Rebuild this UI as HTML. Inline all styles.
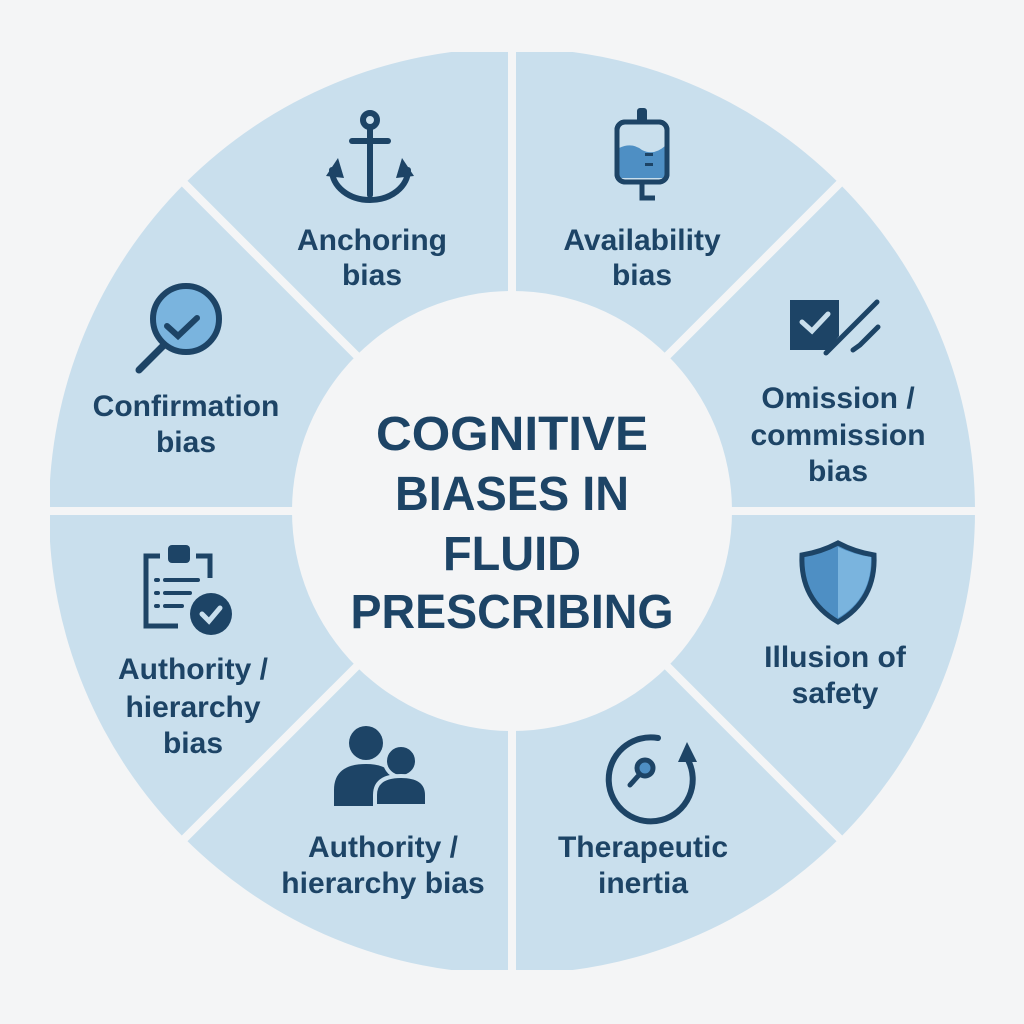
<!DOCTYPE html>
<html><head><meta charset="utf-8"><style>
html,body{margin:0;padding:0;background:#f4f5f6;}
svg{display:block}
text{font-family:"Liberation Sans",sans-serif;font-weight:bold;fill:#1d4466;text-anchor:middle}
</style></head><body>
<svg width="1024" height="1024" viewBox="0 0 1024 1024">
<defs><clipPath id="c"><rect x="50" y="52" width="925" height="918"/></clipPath></defs>
<rect width="1024" height="1024" fill="#f4f5f6"/>
<circle cx="512" cy="511" r="463" fill="#c9dfed" clip-path="url(#c)"/>
<g stroke="#f4f5f6" stroke-width="8">
<line x1="512" y1="20" x2="512" y2="1000"/>
<line x1="20" y1="511" x2="1004" y2="511"/>
<line x1="160" y1="159" x2="864" y2="863"/>
<line x1="864" y1="159" x2="160" y2="863"/>
</g>
<circle cx="512" cy="511" r="220" fill="#f4f5f6"/>
<g font-size="48">
<text x="512" y="450" textLength="272" lengthAdjust="spacingAndGlyphs">COGNITIVE</text>
<text x="512" y="510" textLength="234" lengthAdjust="spacingAndGlyphs">BIASES IN</text>
<text x="512" y="570" textLength="138" lengthAdjust="spacingAndGlyphs">FLUID</text>
<text x="512" y="628" textLength="323" lengthAdjust="spacingAndGlyphs">PRESCRIBING</text>
</g>
<g font-size="30">
<text x="372" y="250">Anchoring</text><text x="372" y="285">bias</text>
<text x="642" y="250">Availability</text><text x="642" y="285">bias</text>
<text x="838" y="408">Omission /</text><text x="838" y="445">commission</text><text x="838" y="481">bias</text>
<text x="835" y="667">Illusion of</text><text x="835" y="703">safety</text>
<text x="643" y="857">Therapeutic</text><text x="643" y="893">inertia</text>
<text x="383" y="857">Authority /</text><text x="383" y="893">hierarchy bias</text>
<text x="193" y="679">Authority /</text><text x="193" y="717">hierarchy</text><text x="193" y="753">bias</text>
<text x="186" y="416">Confirmation</text><text x="186" y="452">bias</text>
</g>
<g fill="none" stroke="#1d4466" stroke-width="6" stroke-linecap="round">
<circle cx="370" cy="120" r="7"/>
<line x1="370" y1="128" x2="370" y2="195"/>
<line x1="352" y1="141" x2="388" y2="141"/>
<path d="M332 170 A38 30 0 0 0 408 170"/>
</g>
<path d="M326 176 L338 158 L344 178Z M414 176 L402 158 L396 178Z" fill="#1d4466"/>
<rect x="617" y="122" width="50" height="60" rx="8" fill="#c9dfed" stroke="#1d4466" stroke-width="5"/>
<path d="M619 148 Q632 142 642 150 Q654 156 665 146 L665 178 L619 178Z" fill="#4e8fc4"/>
<rect x="617" y="122" width="50" height="60" rx="8" fill="none" stroke="#1d4466" stroke-width="5"/>
<rect x="637" y="108" width="10" height="16" rx="3" fill="#1d4466"/>
<path d="M642 182 V198 H655" fill="none" stroke="#1d4466" stroke-width="5"/>
<rect x="645" y="153" width="8" height="3" fill="#1d4466"/><rect x="645" y="163" width="8" height="3" fill="#1d4466"/>
<path d="M790 300 H839 V336 L828 350 H790Z" fill="#1d4466"/>
<path d="M802 322 L812 331 L828 314" fill="none" stroke="#c9dfed" stroke-width="5" stroke-linecap="round"/>
<g stroke="#1d4466" stroke-width="5" stroke-linecap="round" fill="none">
<line x1="877" y1="302" x2="826" y2="353"/>
<path d="M853 350 L860 345 L878 327"/>
</g>
<path d="M838 543 Q855 552 874 555 Q876 600 838 622 Q800 600 802 555 Q821 552 838 543Z" fill="#4e8fc4" stroke="#1d4466" stroke-width="5"/>
<path d="M838 547 Q855 555 871 557 Q872 598 838 618Z" fill="#7ab4de"/>
<circle cx="186" cy="319" r="33" fill="#7ab4de" stroke="#1d4466" stroke-width="6"/>
<path d="M167 326 L178 336 L197 318" fill="none" stroke="#1d4466" stroke-width="6" stroke-linecap="round"/>
<line x1="163" y1="346" x2="139" y2="370" stroke="#1d4466" stroke-width="7" stroke-linecap="round"/>
<path d="M160 556 H146 V626 H178 M196 556 H210 V578" fill="none" stroke="#1d4466" stroke-width="5"/>
<rect x="168" y="545" width="22" height="18" rx="4" fill="#1d4466"/>
<g stroke="#1d4466" stroke-width="4" stroke-linecap="round">
<line x1="156" y1="580" x2="158" y2="580"/><line x1="165" y1="580" x2="198" y2="580"/>
<line x1="156" y1="593" x2="158" y2="593"/><line x1="165" y1="593" x2="190" y2="593"/>
<line x1="156" y1="606" x2="158" y2="606"/><line x1="165" y1="606" x2="182" y2="606"/>
</g>
<circle cx="211" cy="614" r="21" fill="#1d4466"/>
<path d="M202 614 L209 621 L220 608" fill="none" stroke="#c9dfed" stroke-width="5" stroke-linecap="round"/>
<circle cx="366" cy="743" r="17" fill="#1d4466"/>
<path d="M334 806 V790 Q334 764 366 764 Q390 764 395 780 L395 806Z" fill="#1d4466"/>
<circle cx="401" cy="761" r="16" fill="#1d4466" stroke="#c9dfed" stroke-width="4"/>
<path d="M375 806 V795 Q375 776 401 776 Q427 776 427 795 V806Z" fill="#1d4466" stroke="#c9dfed" stroke-width="4"/>
<path d="M688 760 A42 42 0 1 1 658 738" fill="none" stroke="#1d4466" stroke-width="6" stroke-linecap="round"/>
<path d="M678 762 L687 742 L697 762Z" fill="#1d4466"/>
<circle cx="645" cy="768" r="8" fill="#4e8fc4" stroke="#1d4466" stroke-width="5"/>
<line x1="639" y1="775" x2="630" y2="785" stroke="#1d4466" stroke-width="5" stroke-linecap="round"/>
</svg>
</body></html>
